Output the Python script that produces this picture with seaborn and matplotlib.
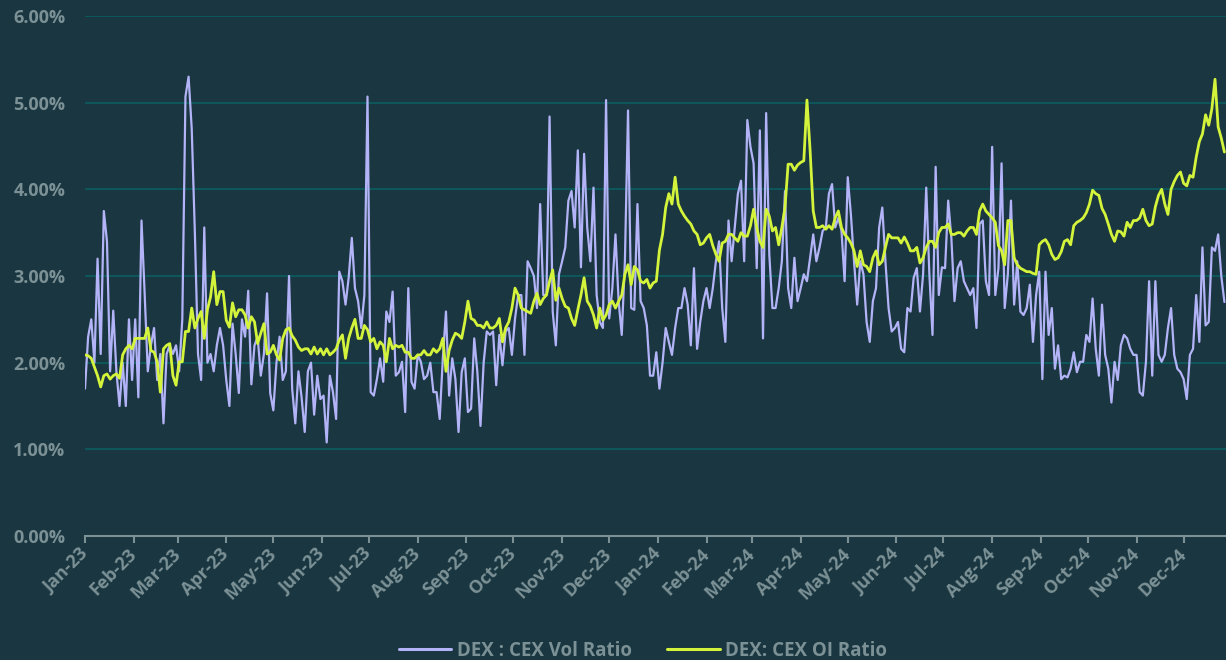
import matplotlib
matplotlib.use("Agg")
import matplotlib.pyplot as plt
import matplotlib.dates as mdates
from matplotlib.ticker import FuncFormatter
import pandas as pd
import seaborn as sns

# readings every 2 days from 1 Jan 2023, in %
vol_jan23 = [1.7, 2.3, 2.5, 2.0, 3.2, 2.1, 3.75, 3.4, 1.9, 2.6, 1.9, 1.5, 2.0, 1.5, 2.5,
             1.8, 2.5, 1.6, 3.64, 2.8, 1.9, 2.2, 2.4, 1.8, 2.1, 1.3, 2.1, 2.2, 2.1, 2.2,
             1.9, 2.5, 5.07, 5.3, 4.7, 3.5, 2.1]
vol_mar23 = [1.8, 3.56, 2.0, 2.1, 1.9, 2.2, 2.4, 2.2, 1.8, 1.5, 2.45, 2.1, 1.65, 2.5, 2.3,
             2.83, 1.75, 2.2, 2.3, 1.85, 2.1, 2.8, 1.65, 1.45, 2.0, 2.3, 1.8, 1.9, 3.0, 1.7,
             1.3, 1.9, 1.6, 1.2, 1.9, 2.0, 1.4]
vol_may23 = [1.85, 1.58, 1.62, 1.08, 1.85, 1.66, 1.35, 3.05, 2.94, 2.67, 2.98, 3.44, 2.86,
             2.71, 2.4, 2.78, 5.07, 1.66, 1.62, 1.81, 2.05, 1.78, 2.59, 2.47, 2.82, 1.85,
             1.89, 2.01, 1.43, 2.86, 1.78, 1.7, 2.09, 2.01, 1.81, 1.85]
vol_aug23 = [2.0, 1.66, 1.66, 1.35, 2.05, 2.59, 1.62, 2.05, 1.81, 1.2, 1.89, 2.05, 1.43,
             1.47, 2.28, 1.89, 1.27, 2.0, 2.36, 2.32, 2.36, 1.74, 2.32, 1.97, 2.36, 2.4,
             2.09, 2.51, 2.78, 2.78, 2.09, 3.17, 3.09, 3.0, 2.63, 3.83, 2.78]
vol_oct23 = [2.78, 4.84, 2.59, 2.2, 3.02, 3.17, 3.33, 3.87, 3.98, 3.56, 4.45, 3.1, 4.41,
             3.56, 3.17, 4.02, 2.78, 2.47, 2.4, 5.03, 2.51, 2.86, 3.48, 2.71, 2.32, 3.17,
             4.91, 2.63, 2.61, 3.83, 2.71, 2.63, 2.43, 1.85, 1.85, 2.12, 1.7]
vol_jan24 = [2.0, 2.4, 2.24, 2.09, 2.4, 2.63, 2.63, 2.86, 2.67, 2.2, 3.09, 2.16, 2.47,
             2.71, 2.86, 2.63, 2.86, 3.17, 3.4, 2.63, 2.24, 3.64, 3.17, 3.56, 3.95, 4.1,
             3.17, 4.8, 4.49, 4.3, 3.09, 4.68, 2.28, 4.88, 3.25, 2.63]
vol_mar24 = [2.63, 2.86, 3.17, 3.98, 2.86, 2.63, 3.21, 2.71, 2.86, 3.02, 2.94, 3.21, 3.48,
             3.17, 3.33, 3.52, 3.56, 3.95, 4.06, 3.56, 3.67, 3.52, 2.94, 4.14, 3.71, 3.17,
             2.67, 3.17, 3.02, 2.47, 2.24, 2.71, 2.86, 3.56, 3.79, 3.17, 2.63]
vol_may24 = [2.36, 2.4, 2.47, 2.16, 2.12, 2.63, 2.59, 2.98, 3.09, 2.59, 3.02, 4.02, 3.02,
             2.32, 4.26, 2.78, 3.1, 3.09, 3.87, 3.44, 2.71, 3.09, 3.17, 2.94, 2.86, 2.78,
             2.86, 2.4, 3.6, 3.64, 2.94, 2.78, 4.49, 2.78, 3.09, 4.3, 2.63]
vol_aug24 = [3.02, 3.87, 2.67, 3.17, 2.59, 2.55, 2.63, 2.9, 2.24, 2.78, 3.05, 1.81, 3.05,
             2.32, 2.63, 1.93, 2.2, 1.81, 1.85, 1.83, 1.93, 2.12, 1.89, 2.01, 2.01, 2.32,
             2.24, 2.74, 2.16, 1.85, 2.67, 2.09, 1.93, 1.54, 2.01, 1.8]
vol_oct24 = [2.2, 2.32, 2.28, 2.16, 2.09, 2.09, 1.66, 1.62, 2.01, 2.94, 1.85, 2.94, 2.09,
             2.01, 2.09, 2.4, 2.63, 2.09, 1.93, 1.89, 1.81, 1.58, 2.09, 2.16, 2.78, 2.24,
             3.33, 2.43, 2.47, 3.33, 3.29, 3.48, 3.0, 2.7]

oi_jan23 = [2.09, 2.08, 2.05, 1.95, 1.85, 1.72, 1.85, 1.87, 1.81, 1.85, 1.87, 1.82, 2.09,
            2.16, 2.2, 2.16, 2.28, 2.28, 2.28, 2.28, 2.4, 2.14, 2.12, 2.01, 1.66, 2.16, 2.2,
            2.22, 1.85, 1.74, 2.01, 2.01, 2.36, 2.36, 2.63, 2.4, 2.51]
oi_mar23 = [2.59, 2.28, 2.61, 2.76, 3.05, 2.67, 2.82, 2.82, 2.49, 2.41, 2.69, 2.53, 2.61,
            2.61, 2.55, 2.4, 2.53, 2.47, 2.22, 2.34, 2.45, 2.1, 2.12, 2.2, 2.09, 2.03, 2.28,
            2.38, 2.4, 2.31, 2.26, 2.18, 2.14, 2.16, 2.16, 2.1, 2.18]
oi_may23 = [2.1, 2.16, 2.09, 2.16, 2.09, 2.12, 2.16, 2.26, 2.32, 2.05, 2.28, 2.4, 2.5, 2.28,
            2.28, 2.43, 2.38, 2.24, 2.28, 2.16, 2.24, 2.2, 2.01, 2.28, 2.16, 2.2, 2.18, 2.2,
            2.12, 2.12, 2.05, 2.05, 2.09, 2.09, 2.14, 2.09]
oi_aug23 = [2.09, 2.16, 2.12, 2.16, 2.28, 1.9, 2.14, 2.26, 2.34, 2.32, 2.28, 2.47, 2.71,
            2.51, 2.49, 2.43, 2.43, 2.4, 2.47, 2.4, 2.4, 2.43, 2.51, 2.24, 2.4, 2.47, 2.63,
            2.86, 2.78, 2.63, 2.61, 2.59, 2.57, 2.71, 2.8, 2.67, 2.74]
oi_oct23 = [2.78, 2.94, 3.07, 2.72, 2.86, 2.74, 2.65, 2.63, 2.51, 2.43, 2.61, 2.78, 2.98,
            2.71, 2.65, 2.55, 2.4, 2.63, 2.49, 2.55, 2.67, 2.71, 2.63, 2.71, 2.78, 3.02,
            3.13, 2.9, 3.11, 3.07, 2.94, 2.92, 2.96, 2.86, 2.92, 2.94, 3.3]
oi_jan24 = [3.48, 3.79, 3.95, 3.83, 4.14, 3.83, 3.75, 3.69, 3.64, 3.6, 3.52, 3.48, 3.36,
            3.38, 3.44, 3.48, 3.35, 3.25, 3.17, 3.38, 3.4, 3.48, 3.48, 3.44, 3.4, 3.5, 3.46,
            3.46, 3.58, 3.77, 3.56, 3.4, 3.33, 3.77, 3.69, 3.52]
oi_mar24 = [3.56, 3.36, 3.56, 3.79, 4.29, 4.29, 4.22, 4.28, 4.31, 4.33, 5.03, 4.45, 3.75,
            3.56, 3.56, 3.58, 3.54, 3.58, 3.54, 3.67, 3.75, 3.56, 3.48, 3.44, 3.38, 3.29,
            3.11, 3.29, 3.13, 3.11, 3.05, 3.21, 3.29, 3.13, 3.17, 3.33, 3.48]
oi_may24 = [3.44, 3.44, 3.44, 3.38, 3.45, 3.38, 3.29, 3.29, 3.33, 3.15, 3.21, 3.33, 3.4,
            3.4, 3.33, 3.5, 3.56, 3.56, 3.6, 3.48, 3.48, 3.5, 3.5, 3.46, 3.52, 3.56, 3.56,
            3.48, 3.75, 3.83, 3.75, 3.71, 3.67, 3.62, 3.35, 3.29, 3.13]
oi_aug24 = [3.64, 3.64, 3.21, 3.13, 3.09, 3.07, 3.05, 3.05, 3.03, 3.02, 3.36, 3.4, 3.42,
            3.36, 3.25, 3.19, 3.21, 3.28, 3.4, 3.42, 3.36, 3.58, 3.62, 3.64, 3.67, 3.73,
            3.83, 3.99, 3.95, 3.93, 3.78, 3.71, 3.6, 3.48, 3.4, 3.52]
oi_oct24 = [3.51, 3.46, 3.62, 3.56, 3.64, 3.64, 3.67, 3.77, 3.64, 3.58, 3.6, 3.8, 3.93, 4.0,
            3.83, 3.71, 4.0, 4.09, 4.16, 4.2, 4.07, 4.04, 4.16, 4.14, 4.37, 4.55, 4.64,
            4.86, 4.74, 4.93, 5.27, 4.72, 4.59, 4.43]

vol_ratio = (vol_jan23 + vol_mar23 + vol_may23 + vol_aug23 + vol_oct23 +
             vol_jan24 + vol_mar24 + vol_may24 + vol_aug24 + vol_oct24)
oi_ratio = (oi_jan23 + oi_mar23 + oi_may23 + oi_aug23 + oi_oct23 +
            oi_jan24 + oi_mar24 + oi_may24 + oi_aug24 + oi_oct24)

vol_df = pd.DataFrame({"date": pd.date_range("2023-01-01", periods=len(vol_ratio), freq="2D"),
                       "ratio": vol_ratio})
oi_df = pd.DataFrame({"date": pd.date_range("2023-01-01", periods=len(oi_ratio), freq="2D"),
                      "ratio": oi_ratio})

bg = "#1a3640"
grid_col = "#0d565a"
txt = "#7b9196"
vol_col = "#b3b3f7"
oi_col = "#d4f43c"

sns.set_style("dark")
plt.rcParams["font.family"] = ["Open Sans", "DejaVu Sans"]
plt.rcParams["font.weight"] = "bold"

fig = plt.figure(figsize=(12.26, 6.6), dpi=100, facecolor=bg)
ax = fig.add_axes([85 / 1226, 124 / 660, 1141 / 1226, 520 / 660])
ax.set_facecolor(bg)

sns.lineplot(data=vol_df, x="date", y="ratio", color=vol_col, linewidth=1.6,
             estimator=None, label="DEX : CEX Vol Ratio", ax=ax, legend=False)
sns.lineplot(data=oi_df, x="date", y="ratio", color=oi_col, linewidth=2.0,
             estimator=None, label="DEX: CEX OI Ratio", ax=ax, legend=False)

ax.set_ylim(0, 6)
ax.set_yticks([0, 1, 2, 3, 4, 5, 6])
ax.yaxis.set_major_formatter(FuncFormatter(lambda v, p: f"{v:.2f}%"))
ax.set_xlim(pd.Timestamp("2023-01-01"), pd.Timestamp("2023-01-01") + pd.Timedelta(days=727))
ax.xaxis.set_major_locator(mdates.MonthLocator())
ax.xaxis.set_major_formatter(mdates.DateFormatter("%b-%y"))

ax.grid(False)
ax.yaxis.grid(True, color=grid_col, linewidth=1.5)
ax.set_axisbelow(True)
for s in ["top", "right", "left"]:
    ax.spines[s].set_visible(False)
ax.spines["bottom"].set_color(txt)
ax.spines["bottom"].set_linewidth(1.5)
ax.spines["bottom"].set_zorder(5)

ax.tick_params(axis="y", length=0, pad=14, labelcolor=txt, labelsize=13)
ax.tick_params(axis="x", direction="out", length=5, width=1.5, color=txt,
               labelcolor=txt, labelsize=13, pad=6, bottom=True)
for lab in ax.get_xticklabels():
    lab.set_rotation(45)
    lab.set_ha("right")
    lab.set_va("center")
    lab.set_rotation_mode("anchor")
    lab.set_fontweight("bold")
for lab in ax.get_yticklabels():
    lab.set_fontweight("bold")

ax.set_xlabel("")
ax.set_ylabel("")

h, l = ax.get_legend_handles_labels()
leg = fig.legend(h, l, loc="center", bbox_to_anchor=(643 / 1226, 9.5 / 660), ncol=2,
                 frameon=False, handlelength=2.8, handletextpad=0.3, columnspacing=1.9,
                 prop={"size": 13.5, "weight": "bold"})
for t in leg.get_texts():
    t.set_color(txt)
for line in leg.get_lines():
    line.set_linewidth(2.2)

fig.savefig("out.png", dpi=100, facecolor=bg)
